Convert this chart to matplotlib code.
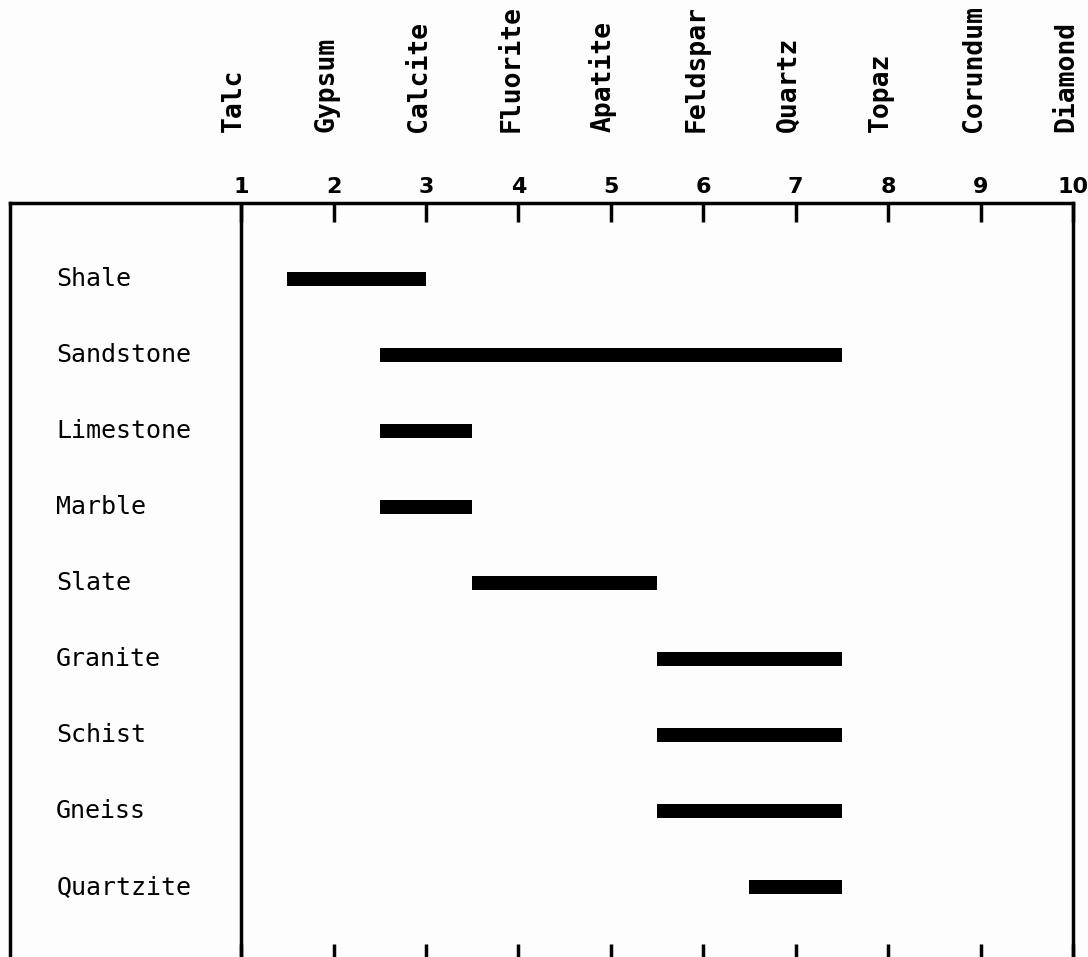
import matplotlib
matplotlib.use("Agg")
import matplotlib.pyplot as plt
from matplotlib.transforms import blended_transform_factory

rocks = ["Shale", "Sandstone", "Limestone", "Marble", "Slate",
         "Granite", "Schist", "Gneiss", "Quartzite"]
hard_min = [1.5, 2.5, 2.5, 2.5, 3.5, 5.5, 5.5, 5.5, 6.5]
hard_max = [3.0, 7.5, 3.5, 3.5, 5.5, 7.5, 7.5, 7.5, 7.5]
minerals = ["Talc", "Gypsum", "Calcite", "Fluorite", "Apatite",
            "Feldspar", "Quartz", "Topaz", "Corundum", "Diamond"]
hardness = [1, 2, 3, 4, 5, 6, 7, 8, 9, 10]
tick_labels = ["1", "2", "3", "4", "5", "6", "7", "8", "9", "10"]

W, H = 1088, 957
fig = plt.figure(figsize=(W / 100, H / 100), dpi=100)
fig.patch.set_facecolor("#fdfdfd")
left_px, right_px, top_px, bot_px = 10, 1073, 203, 963
ax = fig.add_axes([left_px / W, 1 - bot_px / H,
                   (right_px - left_px) / W, (bot_px - top_px) / H])
ax.set_facecolor("#fdfdfd")

ax.set_xlim(-1.5, 10)
ax.set_ylim(9, -1)

mono = "DejaVu Sans Mono"
ypos = list(range(len(rocks)))
widths = [b - a for a, b in zip(hard_min, hard_max)]
ax.barh(ypos, widths, left=hard_min, height=0.19, color="black", zorder=3)

for y, name in zip(ypos, rocks):
    ax.text(-1.0, y, name, ha="left", va="center", fontsize=18,
            family=mono, color="black")

ax.axvline(1, color="black", lw=2.5, zorder=2)

for sp in ["left", "right", "top", "bottom"]:
    ax.spines[sp].set_linewidth(2.5)
    ax.spines[sp].set_color("black")

ax.set_xticks(hardness)
ax.set_xticklabels(tick_labels, fontsize=16, fontweight="bold", family="DejaVu Sans")
ax.tick_params(axis="x", which="both", top=True, bottom=True, labeltop=True,
               labelbottom=False, direction="in", length=14, width=2.5, pad=4)
ax.set_yticks([])

trans = blended_transform_factory(ax.transData, ax.transAxes)
for x, m in zip(hardness, minerals):
    ax.text(x, 1 + 71 / (bot_px - top_px), m, rotation=90, rotation_mode="anchor",
            ha="left", va="baseline", fontsize=19, fontweight="bold",
            family=mono, transform=trans, color="black", clip_on=False)

fig.savefig("out.png", dpi=100, facecolor=fig.get_facecolor())
